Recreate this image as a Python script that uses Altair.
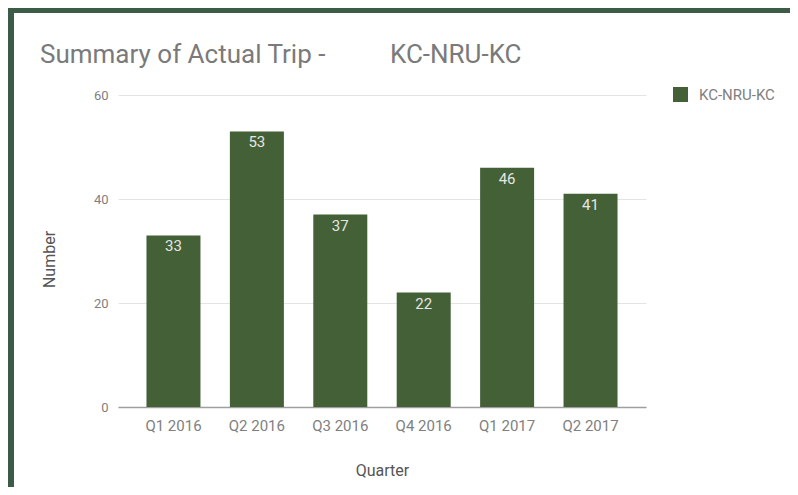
import altair as alt
import pandas as pd

quarters = ["Q1 2016", "Q2 2016", "Q3 2016", "Q4 2016", "Q1 2017", "Q2 2017"]
values = [33, 53, 37, 22, 46, 41]
series = ["KC-NRU-KC"] * len(quarters)
y_ticks = [0, 20, 40, 60]
title_left = "Summary of Actual Trip -"
title_right = "KC-NRU-KC"

df = pd.DataFrame({"Quarter": quarters, "Number": values, "Series": series})
one = pd.DataFrame({"k": [0]})

BAR = "#436036"
FRAME = "#3d5c48"
PAD_L, PAD_T = 110, 87
W, H = 528, 312

base = alt.Chart(df)

frame_top = alt.Chart(one).mark_rect(color=FRAME, clip=False).encode(
    x=alt.value(-PAD_L), x2=alt.value(W + 400),
    y=alt.value(-PAD_T), y2=alt.value(5 - PAD_T),
)
frame_left = alt.Chart(one).mark_rect(color=FRAME, clip=False).encode(
    x=alt.value(-PAD_L), x2=alt.value(6 - PAD_L),
    y=alt.value(-PAD_T), y2=alt.value(H + 400),
)

title1 = alt.Chart(one).mark_text(
    text=title_left, align="left", baseline="alphabetic", fontSize=26,
    color="#7a7a7a", font="Roboto").encode(x=alt.value(-78), y=alt.value(-32))
title2 = alt.Chart(one).mark_text(
    text=title_right, align="left", baseline="alphabetic", fontSize=26,
    color="#7a7a7a", font="Roboto").encode(x=alt.value(272), y=alt.value(-32))

bars = base.mark_bar(size=54).encode(
    x=alt.X("Quarter:N", sort=quarters,
            scale=alt.Scale(paddingInner=0.35, paddingOuter=0.34),
            axis=alt.Axis(title="Quarter", labelAngle=0, labelFontSize=15,
                          labelColor="#808080", labelPadding=11, ticks=False,
                          domainColor="#9e9e9e", domainWidth=1.5,
                          titleFontSize=16, titleColor="#555555", titleFontWeight="normal",
                          titlePadding=29)),
    y=alt.Y("Number:Q", scale=alt.Scale(domain=[0, 60]),
            axis=alt.Axis(title="Number", values=y_ticks, labelFontSize=13,
                          labelColor="#808080", labelPadding=10, ticks=False, domain=False,
                          gridColor="#e4e4e4", titleFontSize=16, titleColor="#555555",
                          titleFontWeight="normal", titlePadding=36, titleY=164)),
    color=alt.Color("Series:N", scale=alt.Scale(domain=["KC-NRU-KC"], range=[BAR]),
                    legend=alt.Legend(title=None, orient="none", legendX=555, legendY=-8,
                                      symbolType="square", symbolSize=225,
                                      symbolStrokeWidth=0, labelFontSize=15,
                                      labelColor="#808080", labelOffset=11)),
)

labels = base.mark_text(baseline="top", dy=4, fontSize=15, color="#e6e6e6",
                        font="Roboto").encode(
    x=alt.X("Quarter:N", sort=quarters),
    y=alt.Y("Number:Q"),
    text=alt.Text("Number:Q"),
)

chart = alt.layer(frame_top, frame_left, title1, title2, bars, labels).properties(
    width=W, height=H,
    padding={"left": PAD_L, "top": PAD_T, "right": 144, "bottom": 80},
    autosize=alt.AutoSizeParams(type="none"),
    background="white",
).configure(font="Roboto").configure_view(stroke=None)

chart.save("out.html", embed_options={"renderer": "svg", "actions": False})
